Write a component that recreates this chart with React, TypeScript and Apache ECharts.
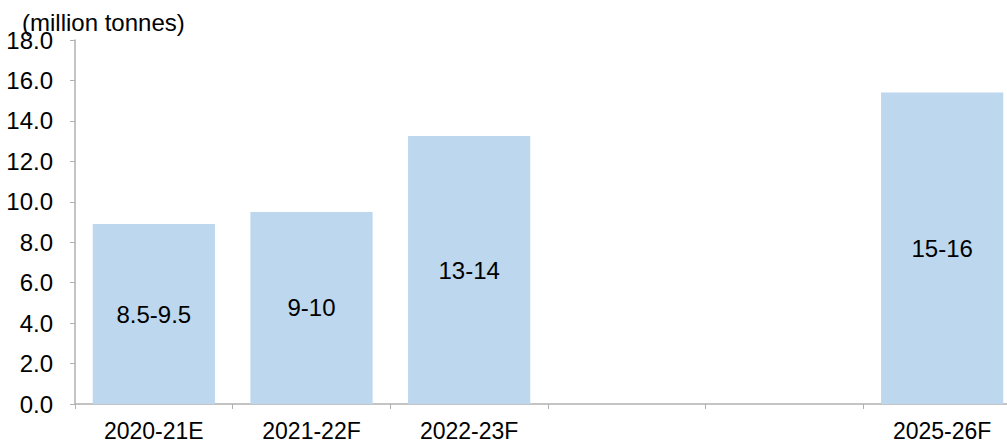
import React, { useEffect, useRef } from "react";
import * as echarts from "echarts";

const categories = ["2020-21E", "2021-22F", "2022-23F", "", "", "2025-26F"];
const values: (number | null)[] = [8.9, 9.5, 13.25, null, null, 15.4];
const rangeLabels = ["8.5-9.5", "9-10", "13-14", "", "", "15-16"];
const unitLabel = "(million tonnes)";

export default function App() {
  const ref = useRef<HTMLDivElement>(null);
  useEffect(() => {
    const chart = echarts.init(ref.current!, undefined, { renderer: "svg" });
    const font = "Arial, 'Liberation Sans', sans-serif";
    chart.setOption({
      animation: false,
      textStyle: { fontFamily: font },
      grid: { left: 75, top: 40, width: 946, height: 364, containLabel: false, outerBoundsMode: "none" },
      graphic: [
        {
          type: "text",
          left: 22,
          top: 10,
          style: { text: unitLabel, fontSize: 24, lineHeight: 24, fill: "#000", fontFamily: font },
        },
      ],
      xAxis: {
        type: "category",
        data: categories,
        axisLine: { lineStyle: { color: "#b0b0b0", width: 1.5 } },
        axisTick: { show: true, length: 5, alignWithLabel: false, interval: 0, lineStyle: { color: "#b0b0b0" } },
        axisLabel: { color: "#000", fontSize: 23, lineHeight: 20, margin: 17, interval: 0, fontFamily: font },
      },
      yAxis: {
        type: "value",
        min: 0,
        max: 18,
        interval: 2,
        splitLine: { show: false },
        axisLine: { show: true, lineStyle: { color: "#b0b0b0", width: 1.5 } },
        axisTick: { show: true, length: 5, lineStyle: { color: "#b0b0b0" } },
        axisLabel: {
          color: "#000",
          fontSize: 24,
          margin: 22,
          fontFamily: font,
          formatter: (v: number) => v.toFixed(1),
        },
      },
      series: [
        {
          type: "bar",
          data: values,
          barCategoryGap: "22.5%",
          itemStyle: { color: "#BDD7EE" },
          label: {
            show: true,
            position: "inside",
            color: "#000",
            fontSize: 24,
            fontFamily: font,
            formatter: (p: any) => rangeLabels[p.dataIndex],
          },
        },
      ],
    });
    return () => chart.dispose();
  }, []);
  return <div ref={ref} style={{ width: 1007, height: 443, position: "absolute", left: 0, top: 0 }} />;
}
